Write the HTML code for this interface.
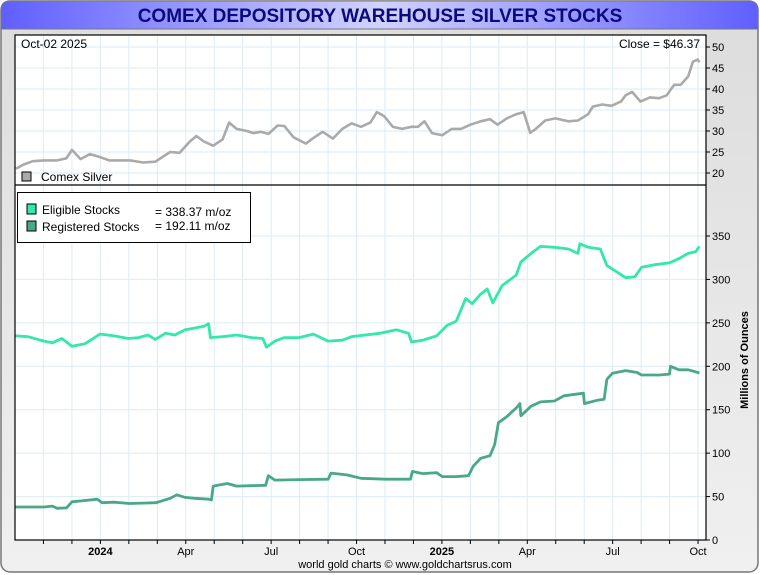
<!DOCTYPE html>
<html><head><meta charset="utf-8">
<style>
html,body{margin:0;padding:0;background:#fff;}
svg{display:block;font-family:"Liberation Sans",sans-serif;}
</style></head>
<body>
<svg id="chart" width="760" height="575" viewBox="0 0 760 575">
<defs>
<linearGradient id="tg" x1="0" x2="1" y1="0" y2="0">
<stop offset="0" stop-color="#5f5fff"/><stop offset="0.5" stop-color="#d2d2ff"/><stop offset="1" stop-color="#5f5fff"/>
</linearGradient>
<linearGradient id="bg" x1="0" x2="0" y1="0" y2="1">
<stop offset="0" stop-color="#dcdcdc"/><stop offset="1" stop-color="#f0f0f0"/>
</linearGradient>
</defs>
<rect x="1" y="1" width="757" height="571" rx="9" fill="url(#bg)" stroke="#777" stroke-width="1.5"/>
<path d="M1,29 L1,10 Q1,1 10,1 L749,1 Q758,1 758,10 L758,29 Z" fill="url(#tg)" stroke="#777"/>
<text x="380" y="22" text-anchor="middle" font-size="19" font-weight="bold" fill="#0a0a7a">COMEX DEPOSITORY WAREHOUSE SILVER STOCKS</text>
<rect x="15" y="35" width="691" height="505" fill="#fff"/>
<g id="grid"></g>
<g id="series"></g>
<rect x="15" y="35" width="691" height="505" fill="none" stroke="#000" stroke-width="1.2"/>
<line x1="15" y1="185" x2="706" y2="185" stroke="#000" stroke-width="1.2"/>
<g id="axes" font-size="11" fill="#000"></g>
<text x="21" y="48" font-size="12">Oct-02  2025</text>
<text x="700" y="48" font-size="12" text-anchor="end">Close = $46.37</text>
<rect x="22" y="172" width="9" height="9" fill="#aaa" stroke="#000"/>
<text x="41" y="181" font-size="12">Comex Silver</text>
<rect x="17.5" y="192.5" width="233" height="50" fill="#fff" stroke="#000"/>
<rect x="27" y="204" width="9" height="10" fill="#33e8a8" stroke="#000"/>
<text x="42" y="214" font-size="12">Eligible Stocks</text>
<text x="155" y="216" font-size="12">= 338.37 m/oz</text>
<rect x="27" y="221" width="9" height="10" fill="#4aa88a" stroke="#000"/>
<text x="42" y="231" font-size="12">Registered Stocks</text>
<text x="155" y="230" font-size="12">= 192.11 m/oz</text>
<text transform="translate(748,360) rotate(-90)" text-anchor="middle" font-size="11" font-weight="bold">Millions of Ounces</text>
<text x="405" y="568" text-anchor="middle" font-size="11">world gold charts © www.goldchartsrus.com</text>
</svg>
<script>
const silverDates=["2023-10-02","2023-10-10","2023-10-20","2023-11-01","2023-11-15","2023-11-25","2023-12-01","2023-12-10","2023-12-20","2023-12-28","2024-01-10","2024-01-20","2024-02-01","2024-02-15","2024-02-28","2024-03-08","2024-03-15","2024-03-25","2024-04-05","2024-04-12","2024-04-20","2024-04-30","2024-05-10","2024-05-17","2024-05-25","2024-06-05","2024-06-12","2024-06-20","2024-06-28","2024-07-08","2024-07-15","2024-07-25","2024-08-07","2024-08-15","2024-08-25","2024-09-05","2024-09-15","2024-09-25","2024-10-05","2024-10-15","2024-10-22","2024-10-30","2024-11-08","2024-11-18","2024-11-28","2024-12-05","2024-12-12","2024-12-20","2024-12-31","2025-01-10","2025-01-20","2025-01-30","2025-02-10","2025-02-20","2025-02-28","2025-03-10","2025-03-20","2025-03-28","2025-04-04","2025-04-10","2025-04-20","2025-05-01","2025-05-15","2025-05-25","2025-06-05","2025-06-10","2025-06-20","2025-06-30","2025-07-10","2025-07-15","2025-07-22","2025-07-31","2025-08-10","2025-08-20","2025-08-28","2025-09-05","2025-09-12","2025-09-20","2025-09-25","2025-09-30","2025-10-02"];
const silverValues=[21,22,22.8,23,23,23.5,25.5,23.3,24.5,24,23,23,23,22.5,22.7,24,25,24.8,27.5,28.8,27.5,26.5,28,32,30.5,30,29.5,29.8,29.3,31.3,31.2,28.5,27,28.3,29.8,28.2,30.5,31.8,31,32,34.5,33.5,31,30.5,31,31,32.3,29.5,29,30.5,30.5,31.5,32.3,32.8,31.5,33,34,34.5,29.6,30.5,32.5,33,32.3,32.5,34,35.8,36.3,36,37,38.5,39.3,37,38,37.8,38.5,41,41,43,46.5,47,46.4];
const eligibleDates=["2023-10-01","2023-10-15","2023-11-01","2023-11-10","2023-11-20","2023-12-01","2023-12-15","2023-12-31","2024-01-15","2024-01-30","2024-02-10","2024-02-20","2024-02-28","2024-03-10","2024-03-20","2024-03-31","2024-04-10","2024-04-20","2024-04-25","2024-04-27","2024-05-10","2024-05-25","2024-06-10","2024-06-22","2024-06-26","2024-07-05","2024-07-15","2024-07-31","2024-08-15","2024-08-31","2024-09-15","2024-09-25","2024-10-10","2024-10-25","2024-11-12","2024-11-25","2024-11-28","2024-12-10","2024-12-25","2025-01-05","2025-01-15","2025-01-25","2025-02-01","2025-02-10","2025-02-17","2025-02-23","2025-03-05","2025-03-20","2025-03-25","2025-04-05","2025-04-15","2025-04-30","2025-05-15","2025-05-25","2025-05-27","2025-06-05","2025-06-18","2025-06-25","2025-07-08","2025-07-15","2025-07-25","2025-08-01","2025-08-15","2025-08-31","2025-09-10","2025-09-20","2025-09-28","2025-10-02"];
const eligibleValues=[235,234,229,227,232,223,226,237,235,232,233,236,231,238,236,242,244,246,249,233,234,236,233,232,222,229,233,233,237,229,230,234,236,238,242,238,228,230,235,247,252,278,272,283,289,273,293,305,320,330,338,337,335,330,341,337,335,316,307,302,303,314,317,319,324,330,332,338];
const registeredDates=["2023-10-01","2023-11-01","2023-11-10","2023-11-15","2023-11-25","2023-12-01","2023-12-15","2023-12-28","2024-01-02","2024-01-15","2024-01-31","2024-02-15","2024-02-29","2024-03-15","2024-03-22","2024-03-31","2024-04-10","2024-04-25","2024-04-28","2024-04-30","2024-05-15","2024-05-25","2024-06-10","2024-06-25","2024-06-28","2024-07-05","2024-07-31","2024-08-31","2024-09-03","2024-09-20","2024-10-05","2024-10-31","2024-11-15","2024-11-27","2024-11-29","2024-12-10","2024-12-25","2024-12-31","2025-01-15","2025-01-28","2025-02-02","2025-02-10","2025-02-20","2025-02-25","2025-03-01","2025-03-10","2025-03-20","2025-03-24","2025-03-25","2025-04-05","2025-04-15","2025-04-30","2025-05-10","2025-05-31","2025-06-01","2025-06-15","2025-06-22","2025-06-25","2025-07-01","2025-07-15","2025-07-27","2025-08-01","2025-08-20","2025-08-31","2025-09-01","2025-09-10","2025-09-20","2025-09-30","2025-10-02"];
const registeredValues=[38,38,39,36.5,37,44,45.5,47,43,43.5,42,42.5,43,48,52,49,48,47,46,62,65,62,62.5,63,74,69,69.5,70,77,75,71,70,70,70,79,76.5,77.5,73,73,74,85,94,97,110,135,142,152,157,143,154,159,160,166,169,157,161,162,185,192,195,193,190,190,191,200,196,196,193,192];
const silverTicks=[20,25,30,35,40,45,50];
const stockTicks=[0,50,100,150,200,250,300,350];
const monthLabels=["","","","2024","","","Apr","","","Jul","","","Oct","","","2025","","","Apr","","","Jul","","","Oct"];

const NS="http://www.w3.org/2000/svg";
const X0=15, PX_PER_MONTH=28.46, ORIGIN=Date.UTC(2023,9,1);
function xOf(d){const t=Date.parse(d+"T00:00:00Z");return X0+(t-ORIGIN)/86400000/30.4375*PX_PER_MONTH;}
function xMonth(i){return X0+i*PX_PER_MONTH;}
function ySilver(v){return 173-(v-20)*4.2;}
function yStock(v){return 540-v*0.8686;}
function mk(tag,attrs,parent){const e=document.createElementNS(NS,tag);for(const k in attrs)e.setAttribute(k,attrs[k]);parent.appendChild(e);return e;}

const grid=document.getElementById('grid'), axes=document.getElementById('axes'), series=document.getElementById('series');
for(let i=1;i<monthLabels.length;i++){
  const x=xMonth(i); if(x>706)break;
  const g=mk('line',{x1:x,x2:x,y1:35,y2:540,stroke:'#dcebf5','stroke-width':1},grid);
  
  
  const t=mk('line',{x1:x,x2:x,y1:540,y2:544,stroke:'#000'},axes);
  
  
  if(monthLabels[i]){
    const l=mk('text',{x:x,y:555,'text-anchor':'middle','font-weight':monthLabels[i].length===4?'bold':'normal'},axes);
    l.textContent=monthLabels[i];
    
    
  }
}
silverTicks.forEach(v=>{
  const y=ySilver(v);
  const g=mk('line',{x1:15,x2:706,y1:y,y2:y,stroke:'#dcebf5'},grid);
  
  
  mk('line',{x1:706,x2:710,y1:y,y2:y,stroke:'#000'},axes);
  const l=mk('text',{x:712,y:y+4},axes);l.textContent=v;
  
  
});
stockTicks.forEach(v=>{
  const y=yStock(v);
  const g=mk('line',{x1:15,x2:706,y1:y,y2:y,stroke:'#dcebf5'},grid);
  
  
  mk('line',{x1:706,x2:710,y1:y,y2:y,stroke:'#000'},axes);
  const l=mk('text',{x:712,y:y+4},axes);l.textContent=v;
  
  
});
function line(dates,vals,yf,color,w){
  return mk('polyline',{points:dates.map((d,i)=>xOf(d).toFixed(1)+','+yf(vals[i]).toFixed(1)).join(' '),fill:'none',stroke:color,'stroke-width':w,'stroke-linejoin':'round'},series);
}
const s=line(silverDates,silverValues,ySilver,'#aaaaaa',2.6);


const e=line(eligibleDates,eligibleValues,yStock,'#33e8a8',2.8);


const r=line(registeredDates,registeredValues,yStock,'#4aa88a',2.8);


</script>
</body></html>
